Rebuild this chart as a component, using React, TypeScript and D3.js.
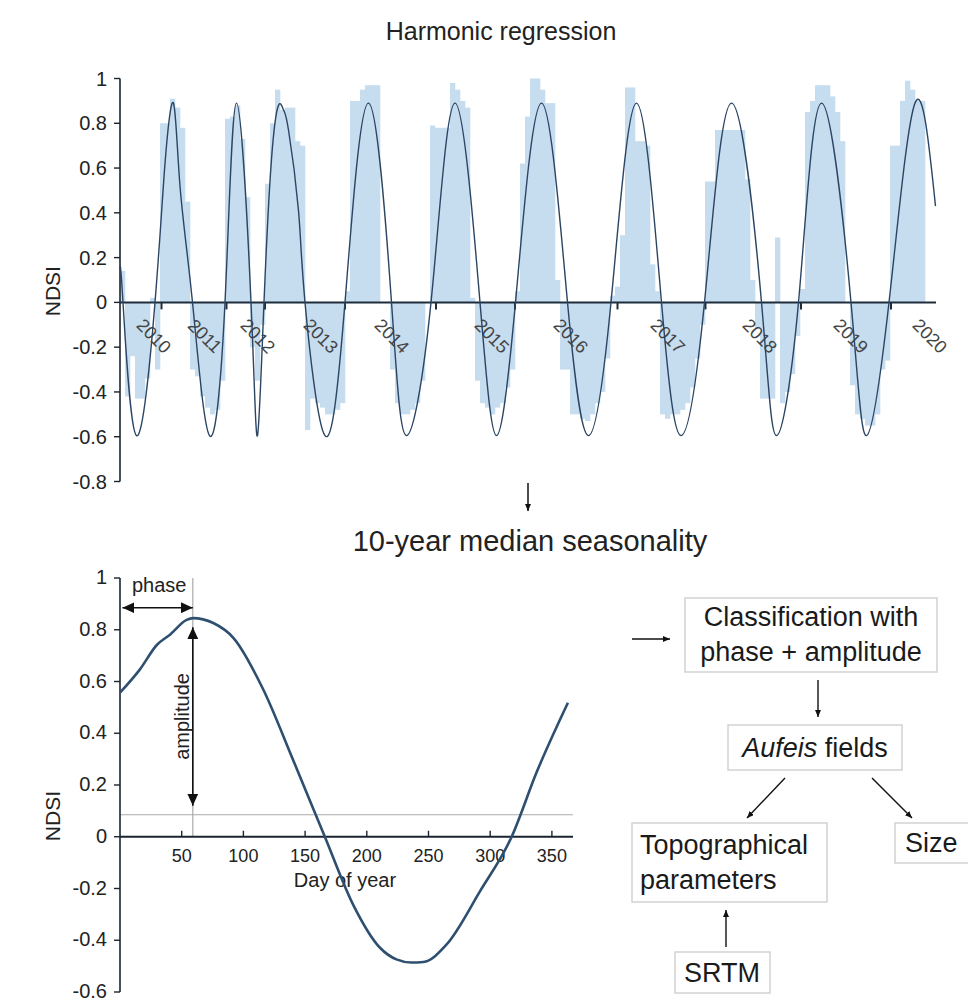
import React from "react";
import * as d3 from "d3";

// ---------- top panel: harmonic regression, x = scene index ----------
const sceneCount = 163;
const ndsiBars = [
  0.14, -0.42, -0.24, -0.43, -0.43, -0.34, 0.02, -0.3, 0.8, 0.8,
  0.91, 0.87, 0.78, 0.45, -0.3, -0.33, -0.42, -0.47, -0.5, -0.48,
  -0.35, 0.82, 0.83, 0.88, 0.73, 0.47, -0.2, -0.35, -0.1, 0.53,
  0.8, 0.95, 0.86, 0.87, 0.87, 0.72, 0.7, -0.57, -0.43, -0.45,
  -0.47, -0.5, -0.5, -0.48, -0.45, 0.05, 0.9, 0.9, 0.95, 0.97,
  0.97, 0.97, 0.0, 0.0, -0.3, -0.45, -0.5, -0.5, -0.48, -0.45,
  -0.35, 0.0, 0.79, 0.78, 0.78, 0.78, 0.98, 0.95, 0.9, 0.87,
  0.02, -0.35, -0.45, -0.47, -0.5, -0.47, -0.45, -0.38, -0.3, 0.05,
  0.62, 0.83, 1.0, 1.0, 0.95, 0.89, 0.89, 0.1, -0.3, -0.3,
  -0.5, -0.5, -0.52, -0.53, -0.5, -0.45, -0.4, -0.25, 0.03, 0.07,
  0.3, 0.96, 0.96, 0.72, 0.72, 0.7, 0.17, 0.05, -0.5, -0.52,
  -0.5, -0.5, -0.48, -0.45, -0.38, -0.25, -0.1, 0.54, 0.54, 0.77,
  0.77, 0.77, 0.77, 0.77, 0.77, 0.55, 0.1, -0.12, -0.43, -0.43,
  -0.43, 0.29, -0.45, -0.4, -0.32, -0.15, 0.06, 0.85, 0.9, 0.97,
  0.97, 0.97, 0.92, 0.85, 0.72, 0.0, -0.37, -0.5, -0.52, -0.55,
  -0.55, -0.5, -0.3, -0.26, 0.7, 0.7, 0.9, 0.99, 0.95, 0.9,
  0.9,
];
const fitIdx = [
  0, 0.6, 3.3, 7, 9, 10.7, 12, 14.5, 17.9, 21, 23.3, 26.2, 27.5, 28.8, 30.3, 31.7,
  32.7, 33.7, 35.7, 37, 41, 45, 49.7, 54.3, 57.3, 62.2, 67, 72, 75.3, 79.1, 84.3, 89.5,
  93.7, 98.2, 103.3, 108.3, 112.2, 116.9, 122.3, 128.3, 131.3, 135.7, 140.3,
  146.2, 149.3, 153.8, 159, 163.1,
];
const fitVal = [
  0.15, 0, -0.595, 0, 0.62, 0.89, 0.52, 0, -0.595, 0, 0.89, 0, -0.595, 0, 0.64, 0.88,
  0.86, 0.77, 0.41, 0, -0.595, 0, 0.89, 0, -0.595, 0, 0.89, 0, -0.595, 0, 0.89, 0,
  -0.595, 0, 0.89, 0, -0.595, 0, 0.89, 0, -0.595, 0, 0.89,
  0, -0.595, 0, 0.89, 0.43,
];
const yearLabels = ["2010", "2011", "2012", "2013", "2014", "2015", "2016", "2017", "2018", "2019", "2020"];
const yearLabelPos = [6.8, 17, 27.6, 40.2, 54.4, 74.4, 90.2, 109.6, 128, 146.2, 162];
const yearStarts = [8.3, 21.3, 29, 45, 63.2, 79, 99.5, 117.1, 136.2, 154.2];
const topTicks = [1, 0.8, 0.6, 0.4, 0.2, 0, -0.2, -0.4, -0.6, -0.8];

// ---------- bottom panel: 10-year median seasonality ----------
const seasonDay = [0, 16, 30, 40.5, 54, 59, 75.6, 92, 116, 140, 166, 189, 210.7, 224, 236, 245.8, 264.7, 291.7, 317.4, 337.7, 363];
const seasonVal = [0.557, 0.646, 0.742, 0.781, 0.838, 0.845, 0.826, 0.768, 0.57, 0.3, 0, -0.263, -0.429, -0.474, -0.486, -0.484, -0.416, -0.211, 0, 0.25, 0.518];
const dayTicks = [50, 100, 150, 200, 250, 300, 350];
const bottomTicks = [1, 0.8, 0.6, 0.4, 0.2, 0, -0.2, -0.4, -0.6];
const threshold = 0.085;
const phaseDay = 59;
const phaseArrowNdsi = 0.885;
const ampTop = 0.81;
const ampBottom = 0.12;

const FONT = "'Liberation Sans', Arial, sans-serif";
const INK = "#222";

const fmt = (v: number) => (v === 0 ? "0" : v === 1 ? "1" : v.toFixed(1));

export default function App() {
  const xTop = d3.scaleLinear().domain([0, sceneCount]).range([120, 935]);
  const yTop = d3.scaleLinear().domain([-0.8, 1]).range([481.5, 78.5]);
  const xBot = d3.scaleLinear().domain([0, 365]).range([120, 570.4]);
  const yBot = d3.scaleLinear().domain([-0.6, 1]).range([992, 578]);

  const fitPath = d3
    .line<number>()
    .x((_, i) => xTop(fitIdx[i]))
    .y((d) => yTop(d))
    .curve(d3.curveNatural)(fitVal);

  const seasonPath = d3
    .line<number>()
    .x((_, i) => xBot(seasonDay[i]))
    .y((d) => yBot(d))
    .curve(d3.curveMonotoneX)(seasonVal);

  const y0 = yTop(0);
  const b0 = yBot(0);

  return (
    <div style={{ position: "absolute", left: 0, top: 0 }}>
      <svg width={968} height={1002} fontFamily={FONT} style={{ display: "block", background: "#fff" }}>
        <defs>
          <marker id="big" viewBox="0 0 12 11" refX="12" refY="5.5" markerWidth="12" markerHeight="11"
            markerUnits="userSpaceOnUse" orient="auto-start-reverse">
            <path d="M0,0 L12,5.5 L0,11 z" fill="#111" />
          </marker>
          <marker id="small" viewBox="0 0 7 6" refX="7" refY="3" markerWidth="7" markerHeight="6"
            markerUnits="userSpaceOnUse" orient="auto">
            <path d="M0,0 L7,3 L0,6 z" fill="#111" />
          </marker>
        </defs>

        {/* ---- top panel ---- */}
        <text x={501} y={40} fontSize={25} textAnchor="middle" fill={INK}>Harmonic regression</text>

        <g>
          {ndsiBars.map((v, i) => (
            <rect key={i} x={xTop(i)} width={xTop(i + 1) - xTop(i) + 0.3}
              y={Math.min(yTop(v), y0)} height={Math.abs(yTop(v) - y0)} fill="#c6dcef" />
          ))}
        </g>

        <line x1={120} x2={120} y1={yTop(1)} y2={yTop(-0.8)} stroke="#1b2530" strokeWidth={1.6} />
        {topTicks.map((t) => (
          <g key={t}>
            <line x1={114} x2={120} y1={yTop(t)} y2={yTop(t)} stroke="#1b2530" strokeWidth={1.4} />
            <text x={107} y={yTop(t)} dy="0.35em" fontSize={20} textAnchor="end" fill={INK}>{fmt(t)}</text>
          </g>
        ))}
        <text transform={`translate(53,${yTop(0.05)}) rotate(-90)`} fontSize={21} textAnchor="middle" dy="0.35em" fill={INK}>NDSI</text>

        <line x1={120} x2={936} y1={y0} y2={y0} stroke="#1e2d3c" strokeWidth={2} />
        {yearStarts.map((t) => (
          <line key={t} x1={xTop(t)} x2={xTop(t)} y1={y0} y2={y0 + 7} stroke="#1e2d3c" strokeWidth={2} />
        ))}
        {yearLabels.map((lab, i) => (
          <text key={lab} transform={`translate(${xTop(yearLabelPos[i])},336) rotate(45)`}
            fontSize={18} textAnchor="middle" dy="0.35em" fill="#444">{lab}</text>
        ))}

        <path d={fitPath ?? ""} fill="none" stroke="#2b4563" strokeWidth={1.4} />

        {/* arrow between panels */}
        <line x1={528} x2={528} y1={483} y2={511} stroke="#111" strokeWidth={1.5} markerEnd="url(#small)" />
        <text x={530} y={551} fontSize={29} textAnchor="middle" fill={INK}>10-year median seasonality</text>

        {/* ---- bottom panel ---- */}
        <line x1={120} x2={573} y1={yBot(threshold)} y2={yBot(threshold)} stroke="#aaa" strokeWidth={1.2} />
        <line x1={xBot(phaseDay)} x2={xBot(phaseDay)} y1={yBot(1)} y2={b0} stroke="#aaa" strokeWidth={1.2} />

        <line x1={120} x2={120} y1={yBot(1)} y2={yBot(-0.6)} stroke="#1b2530" strokeWidth={1.6} />
        {bottomTicks.map((t) => (
          <g key={t}>
            <line x1={114} x2={120} y1={yBot(t)} y2={yBot(t)} stroke="#1b2530" strokeWidth={1.4} />
            <text x={107} y={yBot(t)} dy="0.3em" fontSize={20} textAnchor="end" fill={INK}>{fmt(t)}</text>
          </g>
        ))}
        <text transform={`translate(53,${yBot(0.08)}) rotate(-90)`} fontSize={21} textAnchor="middle" dy="0.35em" fill={INK}>NDSI</text>

        <line x1={120} x2={573} y1={b0} y2={b0} stroke="#1b2530" strokeWidth={1.8} />
        {dayTicks.map((d) => (
          <g key={d}>
            <line x1={xBot(d)} x2={xBot(d)} y1={b0} y2={b0 - 6} stroke="#1b2530" strokeWidth={1.4} />
            <text x={xBot(d)} y={b0 + 19} dy="0.35em" fontSize={18} textAnchor="middle" fill={INK}>{d}</text>
          </g>
        ))}
        <text x={345} y={887} fontSize={20} textAnchor="middle" fill={INK}>Day of year</text>

        <path d={seasonPath ?? ""} fill="none" stroke="#2e4f70" strokeWidth={2.6} />

        <line x1={xBot(2)} x2={xBot(phaseDay)} y1={yBot(phaseArrowNdsi)} y2={yBot(phaseArrowNdsi)}
          stroke="#111" strokeWidth={1.6} markerStart="url(#big)" markerEnd="url(#big)" />
        <text x={132} y={592} fontSize={20} fill={INK}>phase</text>
        <line x1={xBot(phaseDay)} x2={xBot(phaseDay)} y1={yBot(ampTop)} y2={yBot(ampBottom)}
          stroke="#111" strokeWidth={1.6} markerStart="url(#big)" markerEnd="url(#big)" />
        <text transform={`translate(182,${(yBot(ampTop) + yBot(ampBottom)) / 2}) rotate(-90)`}
          fontSize={20} textAnchor="middle" dy="0.35em" fill={INK}>amplitude</text>

        {/* ---- workflow ---- */}
        <g fill="#fff" stroke="#d2d2d2" strokeWidth={1.5}>
          <rect x={685} y={598} width={252} height={74} />
          <rect x={728} y={725} width={174} height={45} />
          <rect x={632} y={823} width={195} height={79} />
          <rect x={895} y={823} width={80} height={40} />
          <rect x={675} y={952} width={95} height={41} />
        </g>
        <g fontSize={27} fill="#1a1a1a">
          <text x={811} y={617} dy="0.35em" textAnchor="middle">Classification with</text>
          <text x={811} y={652} dy="0.35em" textAnchor="middle">phase + amplitude</text>
          <text x={815} y={748} dy="0.35em" textAnchor="middle">
            <tspan fontStyle="italic">Aufeis</tspan> fields
          </text>
          <text x={640} y={845} dy="0.35em">Topographical</text>
          <text x={640} y={880} dy="0.35em">parameters</text>
          <text x={905} y={843} dy="0.35em">Size</text>
          <text x={722} y={973} dy="0.35em" textAnchor="middle">SRTM</text>
        </g>
        <g stroke="#111" strokeWidth={1.4}>
          <line x1={632} y1={639} x2={670} y2={639} markerEnd="url(#small)" />
          <line x1={818} y1={680} x2={818} y2={717} markerEnd="url(#small)" />
          <line x1={785} y1={778} x2={747} y2={818} markerEnd="url(#small)" />
          <line x1={872} y1={778} x2={912} y2={818} markerEnd="url(#small)" />
          <line x1={726} y1={947} x2={726} y2={910} markerEnd="url(#small)" />
        </g>
      </svg>
    </div>
  );
}
